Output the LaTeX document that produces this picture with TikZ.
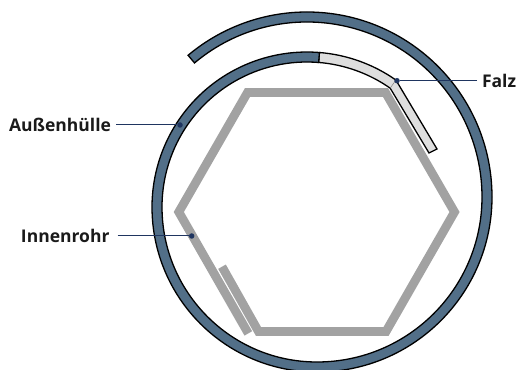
\documentclass[tikz,border=0pt]{standalone}
\usepackage{fontspec}
\setmainfont{Open Sans}
\definecolor{hull}{HTML}{526F88}
\definecolor{fold}{HTML}{DEDEDE}
\definecolor{tube}{HTML}{A2A2A2}
\definecolor{leader}{HTML}{1F3560}
\definecolor{labeltext}{HTML}{1A1A1A}
\tikzset{
  labeltxt/.style={font=\fontsize{17.5}{20}\selectfont\bfseries,text=labeltext,inner sep=0pt,outer sep=0pt},
  leaderline/.style={draw=leader,line width=1pt},
  leaderdot/.style={circle,fill=leader,draw=none,minimum size=5.5pt,inner sep=0pt},
  hullband/.style={draw=black,fill=hull,line width=1.3pt,line join=miter},
  foldband/.style={draw=black,fill=fold,line width=1.3pt,line join=miter},
  tubeline/.style={draw=tube,line width=8.8pt,line join=miter,line cap=butt}
}
\begin{document}
\begin{tikzpicture}[x=1pt,y=1pt]
\useasboundingbox (0,0) rectangle (518,369);
\clip (0,0) rectangle (518,369);
% inner tube (y = 369 - pixel row)
\draw[tubeline] (248.3,35.6) -- (178.8,157) -- (247.5,276.5) -- (385.5,276.5) -- (454.5,157) -- (386,37.5) -- (258.5,37.5) -- (222,102.3);
% folded end of the hull
\draw[foldband] (307,162) ++(85.4:155) arc[start angle=85.4,end angle=55,radius=155]
  -- (437,220) -- (429,216) -- (390.2,280.8)
  arc[start angle=55,end angle=85.4,radius=145] -- cycle;
\draw[draw=gray,line width=0.5pt] (390.2,280.8) -- (395.9,289);
% spiral hull
\draw[hullband]
  (307,162) ++(85.4:155) arc[start angle=85.4,end angle=180,radius=155]
  arc[start angle=180,end angle=270,radius=165]
  arc[start angle=270,end angle=360,radius=175]
  arc[start angle=0,end angle=130,radius=185]
  -- ++(130:-10)
  arc[start angle=130,end angle=0,radius=175]
  arc[start angle=360,end angle=270,radius=165]
  arc[start angle=270,end angle=180,radius=155]
  arc[start angle=180,end angle=85.4,radius=145] -- cycle;
% labels
\node[labeltxt,anchor=east] (lblA) at (111,244.5) {Außenhülle};
\node[labeltxt,anchor=east] (lblI) at (109.5,133) {Innenrohr};
\node[labeltxt,anchor=west] (lblF) at (482,288.5) {Falz};
\node[leaderdot] (dotA) at (180,244) {};
\node[leaderdot] (dotI) at (191.7,133) {};
\node[leaderdot] (dotF) at (397,288.3) {};
\coordinate (endA) at (116,244);
\coordinate (endI) at (117.5,133);
\coordinate (endF) at (477,288.3);
\draw[leaderline] (endA) -- (dotA);
\draw[leaderline] (endI) -- (dotI);
\draw[leaderline] (endF) -- (dotF);
\end{tikzpicture}
\end{document}
